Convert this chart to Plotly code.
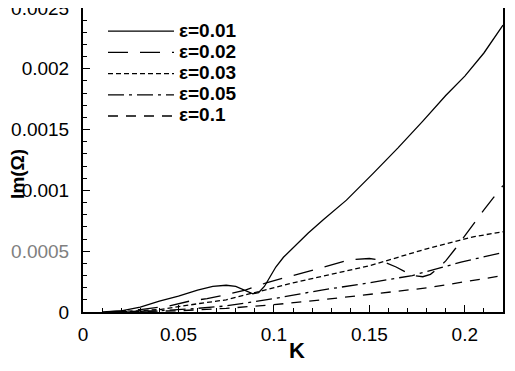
import plotly.graph_objects as go

# Im(Omega) against K for several epsilon values
k_001 = [0.010, 0.020, 0.030, 0.040, 0.050, 0.060, 0.068, 0.075, 0.080, 0.085,
         0.089, 0.092, 0.095, 0.098, 0.101, 0.105, 0.110, 0.118, 0.126, 0.138,
         0.152, 0.165, 0.178, 0.190, 0.200, 0.210, 0.220]
im_001 = [0.0, 0.00001, 0.00004, 0.00009, 0.00013, 0.00018, 0.00021, 0.00022,
          0.00021, 0.00018, 0.00015, 0.00016, 0.00021, 0.00029, 0.00037, 0.00045,
          0.00053, 0.00065, 0.00076, 0.00092, 0.00114, 0.00135, 0.00157, 0.00178,
          0.00194, 0.00213, 0.00236]

k_002 = [0.012, 0.030, 0.045, 0.056, 0.065, 0.072, 0.077, 0.085, 0.096, 0.110,
         0.126, 0.140, 0.150, 0.155, 0.164, 0.1725, 0.178, 0.182, 0.186, 0.190,
         0.195, 0.200, 0.205, 0.210, 0.215, 0.220]
im_002 = [0.0, 0.00002, 0.00005, 0.00009, 0.00011, 0.00013, 0.00015, 0.00018,
          0.00024, 0.00030, 0.00037, 0.00043, 0.00044, 0.00043, 0.00037, 0.00030,
          0.00029, 0.00031, 0.00036, 0.00042, 0.00052, 0.00063, 0.00074, 0.00084,
          0.00094, 0.00104]

k_003 = [0.015, 0.040, 0.061, 0.075, 0.090, 0.110, 0.130, 0.150, 0.165, 0.180,
         0.195, 0.205, 0.220]
im_003 = [0.0, 0.00002, 0.00007, 0.00010, 0.00016, 0.00024, 0.00031, 0.00038,
          0.00045, 0.00052, 0.00058, 0.00062, 0.00066]

k_005 = [0.015, 0.040, 0.060, 0.075, 0.100, 0.125, 0.150, 0.1725, 0.198, 0.220]
im_005 = [0.0, 0.00001, 0.00003, 0.00005, 0.00011, 0.00018, 0.00024, 0.00030,
          0.00041, 0.00049]

k_01 = [0.015, 0.050, 0.075, 0.100, 0.125, 0.148, 0.181, 0.220]
im_01 = [0.0, 0.00001, 0.00003, 0.00006, 0.00010, 0.00014, 0.00020, 0.00030]

series = [
    ("ε=0.01", k_001, im_001, "solid"),
    ("ε=0.02", k_002, im_002, "20px,12px"),
    ("ε=0.03", k_003, im_003, "5px,3px"),
    ("ε=0.05", k_005, im_005, "16px,5px,3px,5px"),
    ("ε=0.1", k_01, im_01, "10px,8px"),
]

x_ticks = [0, 0.05, 0.1, 0.15, 0.2]
x_labels = ["0", "0.05", "0.1", "0.15", "0.2"]
y_ticks = [0, 0.0005, 0.001, 0.0015, 0.002, 0.0025]
y_labels = ["0", '<span style="color:#808080">0.0005</span>', "0.001",
            "0.0015", "0.002", "0.0025"]

FONT = "Liberation Sans, Arial, Helvetica, sans-serif"

fig = go.Figure()
for name, k, im, dash in series:
    # legend spacing follows legend.font.size, so the bigger text goes in a span
    fig.add_trace(go.Scatter(x=k, y=im, mode="lines",
                             name=f'<span style="font-size:19px">{name}</span>',
                             line=dict(color="black", width=1.3, dash=dash)))

axis_common = dict(showline=True, linewidth=2, linecolor="black", mirror=True,
                   ticks="inside", ticklen=7, tickwidth=1, tickcolor="black",
                   showgrid=False, zeroline=False, automargin=False,
                   ticklabeloverflow="allow",
                   tickfont=dict(family=FONT, size=19, color="black"))

fig.update_xaxes(range=[0, 0.22], tickvals=x_ticks, ticktext=x_labels,
                 minor=dict(dtick=0.01, ticks="inside", ticklen=4, tickcolor="black"),
                 ticklabelstandoff=4, **axis_common)
fig.update_yaxes(range=[0, 0.0025], tickvals=y_ticks, ticktext=y_labels,
                 minor=dict(dtick=0.0001, ticks="inside", ticklen=4, tickcolor="black"),
                 ticklabelstandoff=8, **axis_common)

fig.add_annotation(text="K", xref="paper", yref="paper", x=0.51, y=-0.128,
                   xanchor="center", yanchor="middle", showarrow=False,
                   font=dict(family=FONT, size=22, weight="bold", color="black"))
fig.add_annotation(text="Im(Ω)", xref="paper", yref="paper", x=-0.155, y=0.454,
                   xanchor="center", yanchor="middle", showarrow=False, textangle=-90,
                   font=dict(family=FONT, size=19, weight="bold", color="black"))

# page body has an 8px margin, so the figure is smaller and shifted
fig.update_layout(width=507, height=355, plot_bgcolor="white", paper_bgcolor="white",
                  margin=dict(l=75, r=12, t=0, b=51),
                  legend=dict(x=0.0476, y=0.975, xanchor="left", yanchor="top",
                              bgcolor="rgba(0,0,0,0)", itemwidth=66,
                              font=dict(family=FONT, size=14, weight="bold",
                                        color="black"),
                              tracegroupgap=0))

fig.write_html("out.html")
